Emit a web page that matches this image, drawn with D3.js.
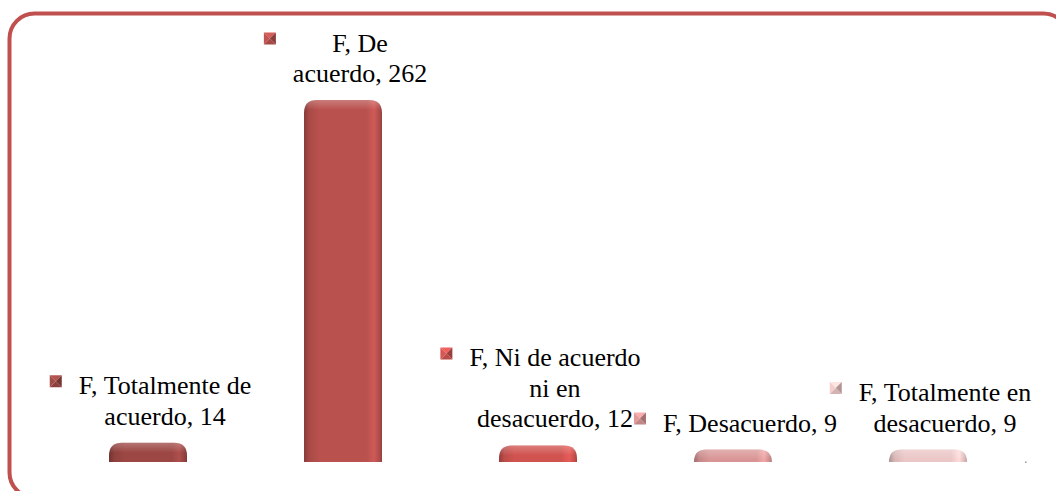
<!DOCTYPE html>
<html>
<head>
<meta charset="utf-8">
<script src="https://cdn.jsdelivr.net/npm/d3@7"></script>
<style>
  html, body { margin: 0; padding: 0; background: #ffffff; }
  svg { display: block; }
</style>
</head>
<body>
<svg id="chart" width="1056" height="491"></svg>
<script>
// ---- Data ----
const categories = ["Totalmente de acuerdo", "De acuerdo", "Ni de acuerdo ni en desacuerdo", "Desacuerdo", "Totalmente en desacuerdo"];
const values = [14, 262, 12, 9, 9];
const seriesName = "F";
const labelLines = [
  ["F, Totalmente de", "acuerdo, 14"],
  ["F, De", "acuerdo, 262"],
  ["F, Ni de acuerdo", "ni en", "desacuerdo, 12"],
  ["F, Desacuerdo, 9"],
  ["F, Totalmente en", "desacuerdo, 9"]
];
const barColors = ["#9c4744", "#b9514e", "#d05350", "#d99595", "#ebc6c6"];
const yDomain = [0, 300];

// ---- Layout ----
const svg = d3.select("#chart");
const defs = svg.append("defs");

// Frame
svg.append("rect")
  .attr("x", 9.5).attr("y", 13.5)
  .attr("width", 1059).attr("height", 484)
  .attr("rx", 25).attr("ry", 25)
  .attr("fill", "none")
  .attr("stroke", "#c0504d")
  .attr("stroke-width", 4);

const x = d3.scaleBand()
  .domain(categories)
  .range([50.5, 1025.5])
  .paddingInner(0.6)
  .paddingOuter(0.3);

const y = d3.scaleLinear().domain(yDomain).range([462, 47.5]);

// gradients per bar
barColors.forEach((c, i) => {
  const base = d3.color(c);
  const g = defs.append("linearGradient")
    .attr("id", "bg" + i).attr("x1", "0").attr("x2", "1").attr("y1", "0").attr("y2", "0");
  g.append("stop").attr("offset", "0%").attr("stop-color", base.darker(0.9));
  g.append("stop").attr("offset", "7%").attr("stop-color", base.darker(0.25));
  g.append("stop").attr("offset", "20%").attr("stop-color", base);
  g.append("stop").attr("offset", "80%").attr("stop-color", base);
  g.append("stop").attr("offset", "90%").attr("stop-color", base.brighter(0.3));
  g.append("stop").attr("offset", "97%").attr("stop-color", base.darker(0.2));
  g.append("stop").attr("offset", "100%").attr("stop-color", base.darker(0.6));
});
const tg = defs.append("linearGradient")
  .attr("id", "topshine").attr("x1", "0").attr("x2", "0").attr("y1", "0").attr("y2", "1");
tg.append("stop").attr("offset", "0%").attr("stop-color", "#ffffff").attr("stop-opacity", 0.25);
tg.append("stop").attr("offset", "100%").attr("stop-color", "#ffffff").attr("stop-opacity", 0);

const r = 13;
function barPath(x0, w, yTop, yBot) {
  const rr = Math.min(r, (yBot - yTop), w / 2);
  return `M${x0},${yBot} L${x0},${yTop + rr} Q${x0},${yTop} ${x0 + rr},${yTop} L${x0 + w - rr},${yTop} Q${x0 + w},${yTop} ${x0 + w},${yTop + rr} L${x0 + w},${yBot} Z`;
}

const bars = svg.append("g");
categories.forEach((cat, i) => {
  const x0 = x(cat), w = x.bandwidth();
  const yTop = y(values[i]), yBot = y(0);
  bars.append("path")
    .attr("d", barPath(x0, w, yTop, yBot))
    .attr("fill", `url(#bg${i})`);
  bars.append("path")
    .attr("d", barPath(x0 + 1, w - 2, yTop, Math.min(yBot, yTop + 10)))
    .attr("fill", "url(#topshine)");
});

// labels
const fontSize = 26, lineH = 30.5;
const labels = svg.append("g")
  .attr("font-family", "'Liberation Serif', 'Times New Roman', serif")
  .attr("font-size", fontSize)
  .attr("fill", "#000");

function drawMarker(g, mx, my, color) {
  const s = 12;
  const c = d3.color(color);
  const cx = mx + s / 2, cy = my + s / 2;
  const tri = [
    [[mx, my], [mx + s, my], [cx, cy], c.brighter(0.4)],
    [[mx + s, my], [mx + s, my + s], [cx, cy], c.darker(0.8)],
    [[mx, my + s], [mx + s, my + s], [cx, cy], c.darker(0.3)],
    [[mx, my], [mx, my + s], [cx, cy], c.brighter(0.1)]
  ];
  tri.forEach(t => {
    g.append("path")
      .attr("d", `M${t[0][0]},${t[0][1]} L${t[1][0]},${t[1][1]} L${t[2][0]},${t[2][1]} Z`)
      .attr("fill", t[3]);
  });
}

categories.forEach((cat, i) => {
  const lines = labelLines[i];
  const cxText = x(cat) + x.bandwidth() / 2 + 17;
  const lastBase = y(values[i]) - 18;
  const firstBase = lastBase - (lines.length - 1) * lineH;
  const g = labels.append("g");
  let minLeft = Infinity;
  lines.forEach((ln, j) => {
    const t = g.append("text")
      .attr("x", cxText)
      .attr("y", firstBase + j * lineH)
      .attr("text-anchor", "middle")
      .text(ln);
    const bb = t.node().getBBox();
    minLeft = Math.min(minLeft, bb.x);
  });
  drawMarker(g, minLeft - 17 - 12, firstBase - 19, barColors[i]);
});

// axis end dot
svg.append("rect").attr("x", 1025).attr("y", 461.5).attr("width", 1.5).attr("height", 1.5).attr("fill", "#999");
</script>
</body>
</html>
